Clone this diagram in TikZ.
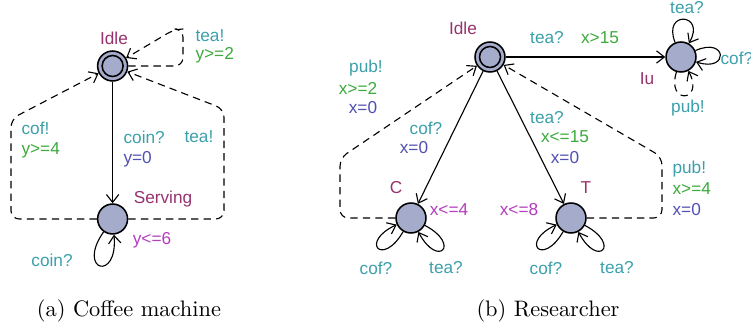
\documentclass[tikz,border=0pt]{standalone}
\usepackage{fontspec}
\newfontfamily\uppfont{Liberation Sans}
\usetikzlibrary{arrows.meta}
\definecolor{locfill}{RGB}{165,172,203}
\definecolor{namecol}{RGB}{150,50,110}
\definecolor{synccol}{RGB}{60,160,170}
\definecolor{guardcol}{RGB}{60,170,60}
\definecolor{assigncol}{RGB}{80,80,180}
\definecolor{invcol}{RGB}{180,60,190}
\tikzset{
  loc/.style={circle,draw,line width=0.7pt,fill=locfill,minimum size=4.7mm,inner sep=0pt},
  lbl/.style={font=\uppfont\fontsize{7.7}{9}\selectfont,inner sep=0pt},
  lname/.style={lbl,text=namecol},
  sync/.style={lbl,text=synccol},
  guard/.style={lbl,text=guardcol},
  assign/.style={lbl,text=assigncol},
  inv/.style={lbl,text=invcol},
  unctrl/.style={dash pattern=on 3.3pt off 2.3pt,rounded corners=1.3mm},
  captext/.style={inner sep=0pt}
}
\begin{document}
\begin{tikzpicture}[x=0.157mm,y=0.157mm,>={Straight Barb[length=3.5pt,width=5.5pt]},line width=0.5pt]
    \useasboundingbox (0,0) rectangle (751,326);
    %% coffee machine
    \node[loc] (idleA) at (112.6,260) {};
    \draw[line width=0.7pt] (idleA) circle[radius=10.5];
    \node[loc] (servA) at (112.6,107) {};
    \node[lname] (idleAn) at (114,288) {Idle};
    \node[lname] (servAn) at (163,127) {Serving};
    \node[inv] (servAi) at (152,86) {y<=6};
    \draw[->] (idleA) -- (servA);
    \node[sync,anchor=west] (coinA) at (123,189) {coin?};
    \node[assign,anchor=west] (coinAa) at (123,167) {y=0};
    \draw[->] (servA.235) to[out=235,in=275,distance=7.5mm] (servA.275);
    \node[sync] (coinAl) at (52,66) {coin?};
    \draw[unctrl,->] (servA) -- (11,107) -- (11,207) -- (idleA);
    \node[sync,anchor=west] (cofA) at (21,198) {cof!};
    \node[guard,anchor=west] (cofAg) at (21,176) {y>=4};
    \draw[unctrl,->] (servA) -- (224,107) -- (224,217) -- (idleA);
    \node[sync,anchor=west] (teaA) at (184,189) {tea!};
    \draw[unctrl,->] (idleA) -- (183,260) -- (183,297) -- (175,297) -- (idleA);
    \node[sync,anchor=west] (teaAl) at (195,290) {tea!};
    \node[guard,anchor=west] (teaAg) at (195,271) {y>=2};
    \node[captext] (capA) at (129,15) {(a) Coffee machine};
    %% researcher
    \node[loc] (idleB) at (490,269) {};
    \draw[line width=0.7pt] (idleB) circle[radius=10.5];
    \node[loc] (iu) at (681,269) {};
    \node[loc] (cB) at (411,108) {};
    \node[loc] (tB) at (571,108) {};
    \node[lname] (idleBn) at (463,298) {Idle};
    \node[lname] (iun) at (647,247) {Iu};
    \node[lname] (cBn) at (396,138) {C};
    \node[lname] (tBn) at (586,138) {T};
    \node[inv] (cBi) at (449,116) {x<=4};
    \node[inv] (tBi) at (519,116) {x<=8};
    % to Iu
    \draw[->] (idleB) -- (iu);
    \node[sync] (teaB) at (547,288) {tea?};
    \node[guard] (teaBg) at (600,288) {x>15};
    \draw[->] (iu.112) to[out=112,in=60,distance=5.5mm] (iu.60);
    \node[sync] (teaIu) at (687,318) {tea?};
    \draw[->] (iu.24) to[out=24,in=-18,distance=5.5mm] (iu.-18);
    \node[sync,anchor=west] (cofIu) at (720,268) {cof?};
    \draw[unctrl,->] (iu.253) to[out=253,in=298,distance=5.5mm] (iu.298);
    \node[sync] (pubIu) at (688,218) {pub!};
    % to C
    \draw[->] (idleB) -- (cB);
    \node[sync] (cofB) at (426,198) {cof?};
    \node[assign] (cofBa) at (414,178) {x=0};
    \draw[->] (cB.240) to[out=240,in=205,distance=6.5mm] (cB.205);
    \draw[->] (cB.332) to[out=332,in=298,distance=6.5mm] (cB.298);
    \node[sync] (cofC) at (376,58) {cof?};
    \node[sync] (teaC) at (446,58) {tea?};
    \draw[unctrl,->] (cB) -- (340,108) -- (340,168) -- (idleB);
    \node[sync] (pubC) at (366,258) {pub!};
    \node[guard] (pubCg) at (358,238) {x>=2};
    \node[assign] (pubCa) at (363,218) {x=0};
    % to T
    \draw[->] (idleB) -- (tB);
    \node[sync] (teaT) at (547,208) {tea?};
    \node[guard] (teaTg) at (565,189) {x<=15};
    \node[assign] (teaTa) at (565,168) {x=0};
    \draw[->] (tB.240) to[out=240,in=205,distance=6.5mm] (tB.205);
    \draw[->] (tB.332) to[out=332,in=298,distance=6.5mm] (tB.298);
    \node[sync] (cofT) at (546,58) {cof?};
    \node[sync] (teaTl) at (617,58) {tea?};
    \draw[unctrl,->] (tB) -- (662,108) -- (662,169) -- (idleB);
    \node[sync,anchor=west] (pubT) at (672,157) {pub!};
    \node[guard,anchor=west] (pubTg) at (672,137) {x>=4};
    \node[assign,anchor=west] (pubTa) at (672,116) {x=0};
    \node[captext] (capB) at (548,15) {(b) Researcher};
\end{tikzpicture}
\end{document}
